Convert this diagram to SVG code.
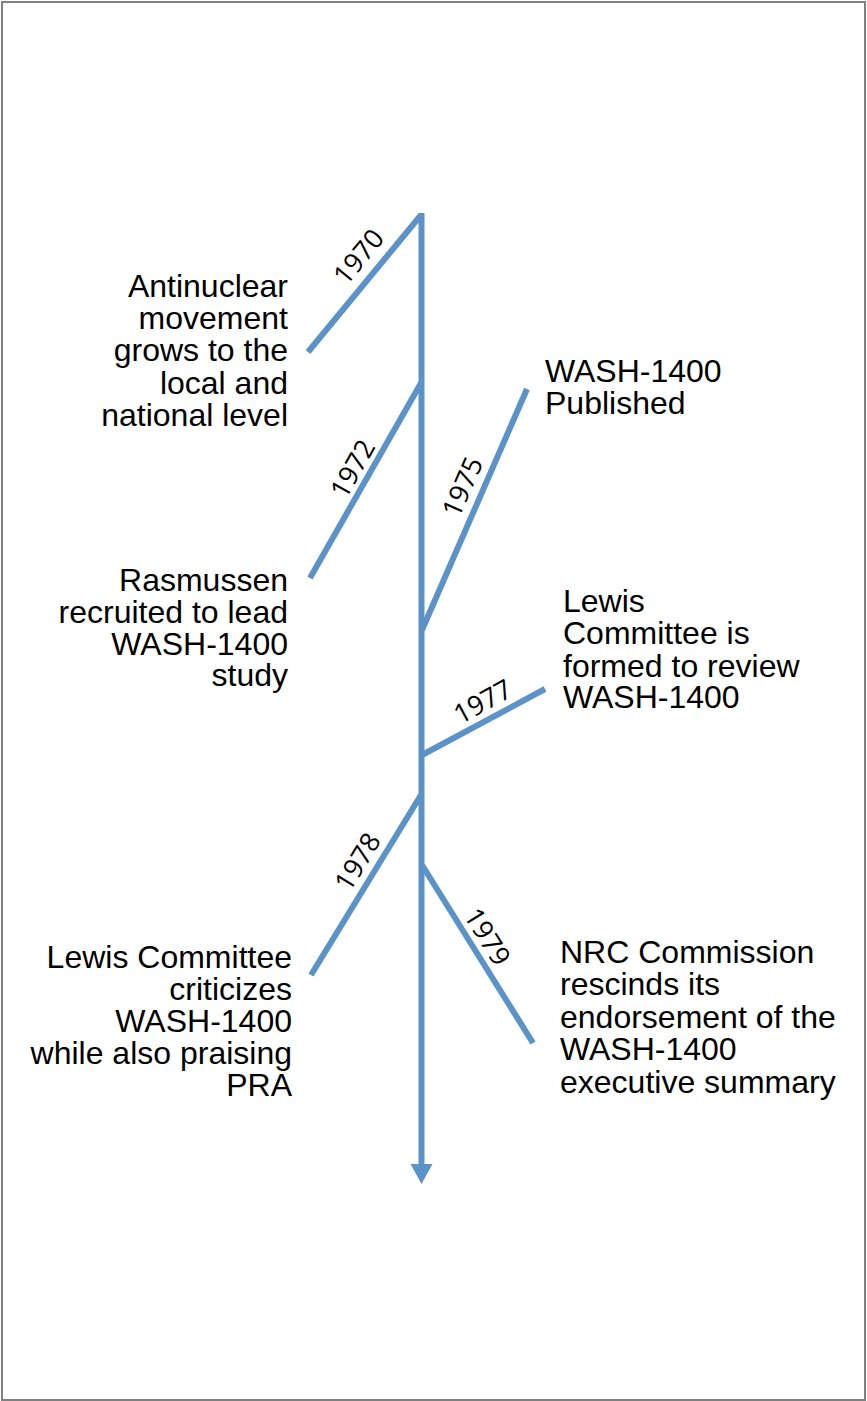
<svg xmlns="http://www.w3.org/2000/svg" width="867" height="1401" viewBox="0 0 867 1401">
  <style>
    .frame { fill: #ffffff; stroke: #808080; stroke-width: 2; }
    .branch { stroke: #5b93c8; stroke-width: 6; fill: none; stroke-linecap: butt; }
    .head { fill: #5b93c8; }
    .year { font-family: "Open Sans", "Liberation Sans", sans-serif; font-size: 27px; fill: #000000; text-anchor: middle; }
    .note { font-family: "Liberation Sans", Arial, sans-serif; font-size: 32px; fill: #000000; }
    .left { text-anchor: end; }
    .right { text-anchor: start; }
  </style>

  <rect class="frame" x="2" y="2" width="863" height="1398"/>

  <!-- timeline spine and branches -->
  <g id="connectors">
    <line class="branch" x1="421.5" y1="213" x2="421.5" y2="1166"/>
    <polygon class="head" points="410.5,1164 432.5,1164 421.5,1184"/>
    <line class="branch" x1="308" y1="352" x2="421" y2="215"/>
    <line class="branch" x1="310" y1="578" x2="421" y2="383"/>
    <line class="branch" x1="422" y1="630" x2="527" y2="389"/>
    <line class="branch" x1="422" y1="755" x2="545" y2="689"/>
    <line class="branch" x1="311" y1="975" x2="421" y2="795"/>
    <line class="branch" x1="422" y1="865" x2="533" y2="1043"/>
  </g>

  <g id="event-1970">
    <text class="year" transform="translate(359,257) rotate(-50.5)" y="9">1970</text>
    <text class="note left"><tspan x="288" y="297">Antinuclear</tspan><tspan x="288" y="329">movement</tspan><tspan x="288" y="361">grows to the</tspan><tspan x="288" y="394">local and</tspan><tspan x="288" y="426">national level</tspan></text>
  </g>

  <g id="event-1972">
    <text class="year" transform="translate(353,469) rotate(-60.6)" y="9">1972</text>
    <text class="note left"><tspan x="288" y="591">Rasmussen</tspan><tspan x="288" y="623">recruited to lead</tspan><tspan x="288" y="655">WASH-1400</tspan><tspan x="288" y="686">study</tspan></text>
  </g>

  <g id="event-1975">
    <text class="year" transform="translate(463,487) rotate(-66.3)" y="9">1975</text>
    <text class="note right"><tspan x="545" y="382">WASH-1400</tspan><tspan x="545" y="414">Published</tspan></text>
  </g>

  <g id="event-1977">
    <text class="year" transform="translate(483,702) rotate(-28.6)" y="9">1977</text>
    <text class="note right"><tspan x="563" y="612">Lewis</tspan><tspan x="563" y="644">Committee is</tspan><tspan x="563" y="677">formed to review</tspan><tspan x="563" y="708">WASH-1400</tspan></text>
  </g>

  <g id="event-1978">
    <text class="year" transform="translate(358,862) rotate(-58.6)" y="9">1978</text>
    <text class="note left"><tspan x="292" y="968">Lewis Committee</tspan><tspan x="292" y="1000">criticizes</tspan><tspan x="292" y="1032">WASH-1400</tspan><tspan x="292" y="1064">while also praising</tspan><tspan x="292" y="1096">PRA</tspan></text>
  </g>

  <g id="event-1979">
    <text class="year" transform="translate(487,937) rotate(58.2)" y="9">1979</text>
    <text class="note right"><tspan x="560" y="963">NRC Commission</tspan><tspan x="560" y="995">rescinds its</tspan><tspan x="560" y="1028">endorsement of the</tspan><tspan x="560" y="1060">WASH-1400</tspan><tspan x="560" y="1093">executive summary</tspan></text>
  </g>
</svg>
